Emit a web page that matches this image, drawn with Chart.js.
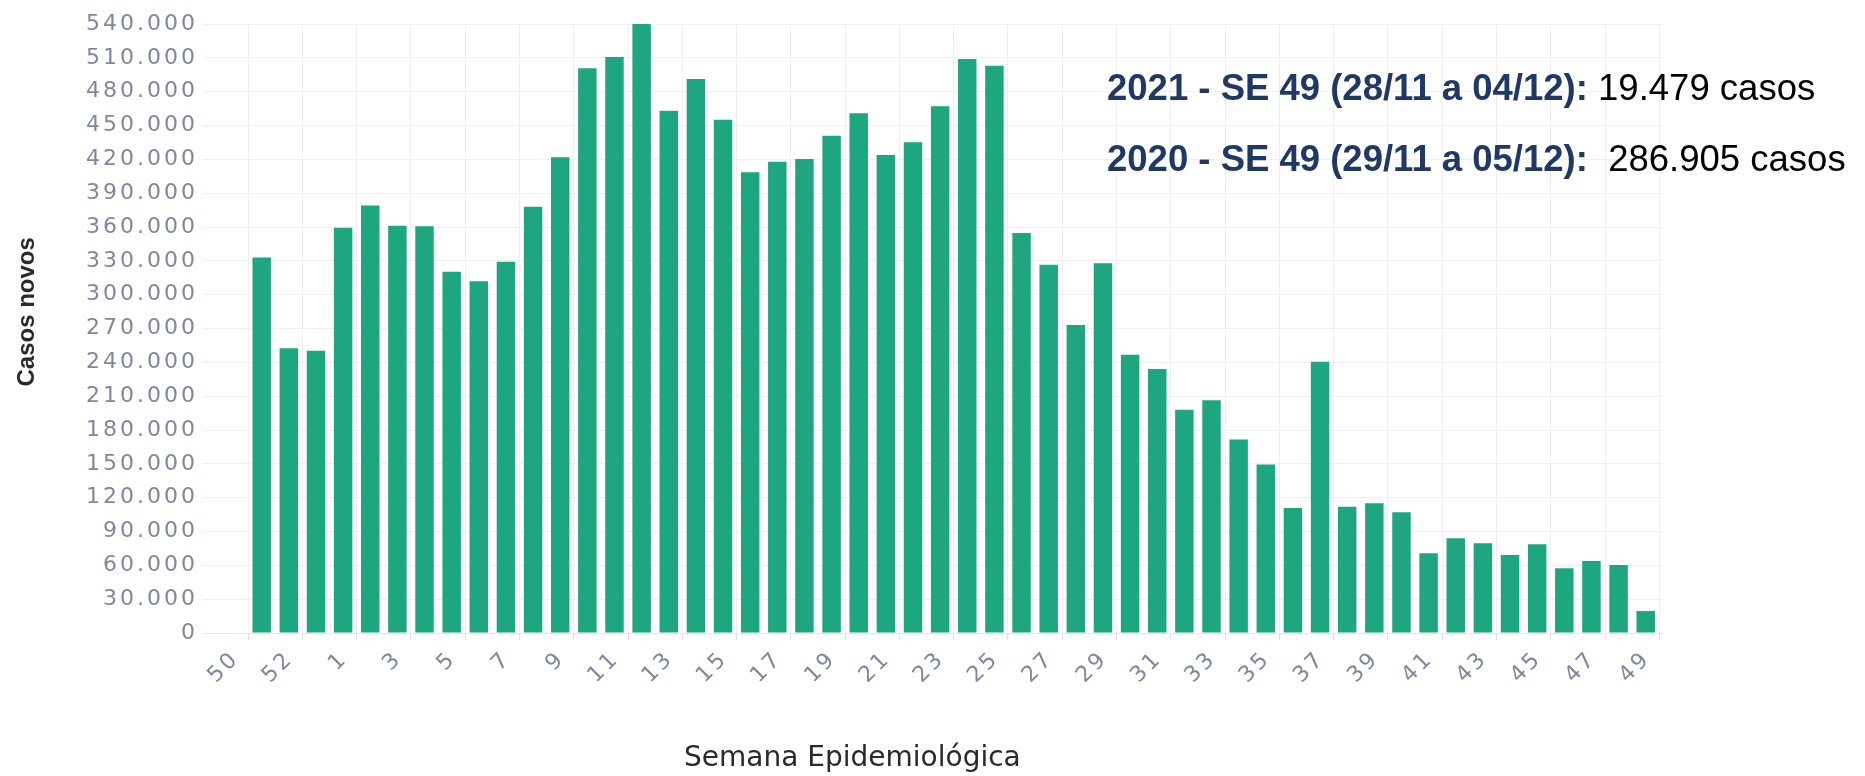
<!DOCTYPE html>
<html><head><meta charset="utf-8">
<script src="https://cdn.jsdelivr.net/npm/chart.js@4"></script>
<style>
html,body{margin:0;padding:0;background:#fff;}
#wrap{position:relative;width:1865px;height:776px;overflow:hidden;background:#fff;}
#c{position:absolute;left:0;top:0;}
.note{position:absolute;left:1107px;font-family:"Liberation Sans",Arial,sans-serif;font-size:36.5px;white-space:nowrap;color:#000;line-height:1;}
.note b{color:#1f3864;}
</style></head><body>
<div id="wrap">
<canvas id="c" width="1865" height="776"></canvas>
<div class="note" style="top:70px"><b>2021 - SE 49 (28/11 a 04/12):</b> 19.479 casos</div>
<div class="note" style="top:141px"><b>2020 - SE 49 (29/11 a 05/12):</b>&nbsp; 286.905 casos</div>
</div>
<script>
const weekLabels = ["50","51","52","53","1","2","3","4","5","6","7","8","9","10","11","12","13","14","15","16","17","18","19","20","21","22","23","24","25","26","27","28","29","30","31","32","33","34","35","36","37","38","39","40","41","42","43","44","45","46","47","48","49"];
const casosNovos = [null,333000,252500,250300,359400,379000,361200,360600,320400,311800,329200,378000,421800,500700,510700,540000,463100,491200,455200,408500,417900,420300,441000,460800,423800,435100,467000,509000,503000,354700,326600,273100,327800,246800,234100,198000,206300,171600,149500,110800,240600,112000,115000,107000,70700,84000,79500,69200,78600,57400,63800,60300,19479];
const yMax = 540000;
const yStep = 30000;

const fmt = v => String(v).replace(/\B(?=(\d{3})+(?!\d))/g, '.');
const tickFont = {family: "'DejaVu Sans', sans-serif", size: 22};
const tickColor = '#7f889b';

const spacing = {
  id: 'spacing',
  beforeDatasetsDraw(c){ c.ctx.letterSpacing = '3px'; },
  afterDraw(c){ c.ctx.letterSpacing = '0px'; }
};

new Chart(document.getElementById('c'), {
  type: 'bar',
  data: {
    datasets: [{
      data: weekLabels.map((w, i) => ({x: i + 0.5, y: casosNovos[i]})),
      backgroundColor: '#1da680',
      barPercentage: 0.68,
      categoryPercentage: 1
    }]
  },
  options: {
    responsive: false,
    animation: false,
    layout: {padding: {top: 24, right: 203, bottom: 0, left: 0}},
    plugins: {legend: {display: false}, tooltip: {enabled: false}},
    scales: {
      x: {
        type: 'linear', min: -0.663, max: 53.1, offset: false,
        afterBuildTicks: s => { s.ticks = weekLabels.map((w, i) => ({value: i})).filter(t => t.value % 2 === 0); },
        afterFit: s => { s.height = 143; },
        grid: {color: '#efefef', drawTicks: true, tickLength: 7, tickColor: '#e2e2e2'},
        border: {display: true, color: '#e6e6e6'},
        ticks: {autoSkip: false, maxRotation: 45, minRotation: 45, color: tickColor, font: tickFont, padding: 6, labelOffset: 15, z: 1,
          callback: v => weekLabels[v]},
        title: {display: true, text: 'Semana Epidemiológica' + '\u00a0'.repeat(18), color: '#2a2a2a', font: {family: "'DejaVu Sans', sans-serif", size: 28}, padding: {top: 0, bottom: 0}}
      },
      y: {
        min: 0, max: yMax,
        afterFit: s => { s.width = 203; },
        grid: {color: '#efefef', drawTicks: false},
        border: {display: false},
        ticks: {stepSize: yStep, color: tickColor, font: tickFont, padding: 5, z: 1, callback: v => fmt(v)},
        title: {display: true, text: '\u00a0'.repeat(5) + 'Casos novos', color: '#2a2a2a', font: {family: "'Liberation Sans', Arial, sans-serif", size: 24, weight: 'bold'}, padding: {top: 13, bottom: 0}}
      }
    }
  },
  plugins: [spacing]
});
</script>
</body></html>
